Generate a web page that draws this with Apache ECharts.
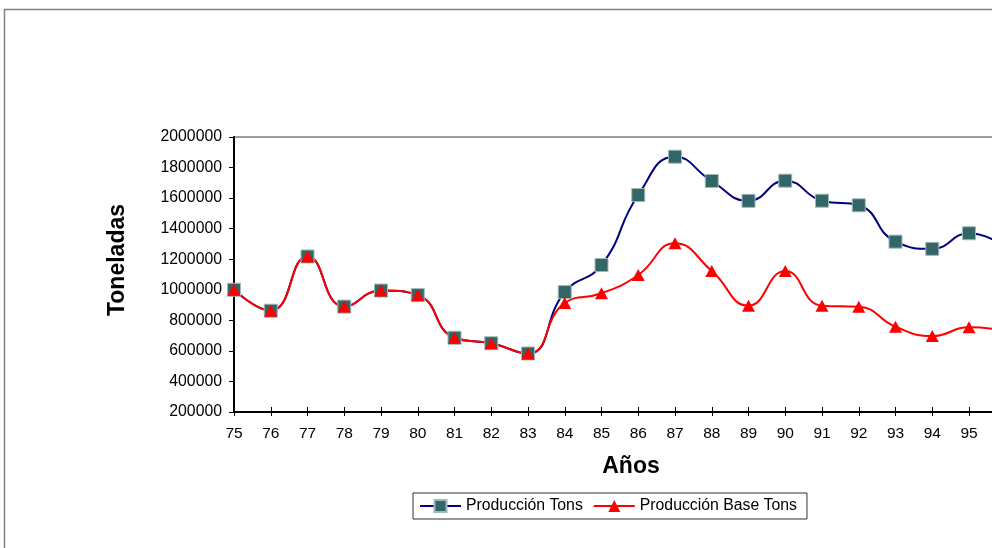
<!DOCTYPE html>
<html>
<head>
<meta charset="utf-8">
<title>Producción</title>
<script src="https://cdn.jsdelivr.net/npm/echarts@6/dist/echarts.min.js"></script>
<style>
  html, body { margin: 0; padding: 0; background: #fff; }
  #chart { width: 992px; height: 548px; }
</style>
</head>
<body>
<div id="chart"></div>
<script>
// Años (últimos dos dígitos)
const years = ['75', '76', '77', '78', '79', '80', '81', '82', '83', '84', '85',
               '86', '87', '88', '89', '90', '91', '92', '93', '94', '95', '96'];

// Producción total, toneladas
const produccionTons = [1000000, 863000, 1218000, 890000, 995000, 965000, 686000, 650000, 583000,
                        985000, 1162000, 1620000, 1871000, 1712000, 1582000, 1714000, 1583000,
                        1553000, 1315000, 1268000, 1370000, 1280000];

// Producción base, toneladas
const produccionBaseTons = [1000000, 863000, 1218000, 890000, 995000, 965000, 686000, 650000, 583000,
                            913000, 977000, 1097000, 1304000, 1123000, 896000, 1123000, 896000,
                            889000, 758000, 697000, 754000, 730000];

// Marcas del eje vertical
const yMin = 200000, yMax = 2000000, yStep = 200000;

const FONT = '"Liberation Sans", Arial, sans-serif';

const chart = echarts.init(document.getElementById('chart'), null, { renderer: 'canvas' });

chart.setOption({
  backgroundColor: '#ffffff',
  animation: false,
  grid: {
    left: 234, top: 137, bottom: 136, right: -13.75,
    outerBoundsMode: 'none', containLabel: false,
    show: true, borderColor: '#808080', borderWidth: 1.5, backgroundColor: 'transparent'
  },
  xAxis: [
    {
      type: 'category', data: years, boundaryGap: false, position: 'bottom',
      axisLine: { lineStyle: { color: '#000', width: 2 } },
      axisTick: { inside: true, length: 5, lineStyle: { color: '#000', width: 1 } },
      axisLabel: { color: '#000', fontFamily: FONT, fontSize: 15.5, margin: 14 },
      splitLine: { show: false }
    },
    {
      type: 'category', data: years, boundaryGap: false, position: 'bottom',
      axisLine: { show: false },
      axisTick: { inside: false, length: 4, lineStyle: { color: '#000', width: 1 } },
      axisLabel: { show: false },
      splitLine: { show: false }
    }
  ],
  yAxis: {
    type: 'value', min: yMin, max: yMax, interval: yStep,
    axisLine: { show: true, lineStyle: { color: '#000', width: 2 } },
    axisTick: { show: true, inside: false, length: 5, lineStyle: { color: '#000', width: 1 } },
    axisLabel: {
      color: '#000', fontFamily: FONT, fontSize: 15.8, margin: 12,
      formatter: (v) => String(v)
    },
    splitLine: { show: false }
  },
  legend: {
    left: 413, top: 493,
    padding: [5, 10, 5, 6],
    itemWidth: 41, itemHeight: 15, itemGap: 10,
    borderColor: '#333', borderWidth: 1,
    textStyle: { color: '#000', fontFamily: FONT, fontSize: 15.8 },
    data: ['Producción Tons', 'Producción Base Tons']
  },
  graphic: [
    {
      type: 'rect', silent: true,
      shape: { x: 4.5, y: 9.5, width: 1100, height: 700 },
      style: { fill: 'none', stroke: '#808080', lineWidth: 1.5 },
      z: -1
    },
    {
      type: 'text', silent: true,
      x: 118, y: 260, rotation: Math.PI / 2,
      style: {
        text: 'Toneladas', fill: '#000', font: 'bold 23px ' + FONT,
        align: 'center', verticalAlign: 'middle'
      }
    },
    {
      type: 'text', silent: true,
      x: 631, y: 467,
      style: {
        text: 'Años', fill: '#000', font: 'bold 23px ' + FONT,
        align: 'center', verticalAlign: 'middle'
      }
    }
  ],
  series: [
    {
      name: 'Producción Tons', type: 'line', data: produccionTons,
      smooth: 0.5, symbol: 'rect', symbolSize: 13, showAllSymbol: true,
      lineStyle: { color: '#000080', width: 2 },
      itemStyle: { color: '#336666', borderColor: '#9fb8b8', borderWidth: 1 },
      emphasis: { disabled: true }
    },
    {
      name: 'Producción Base Tons', type: 'line', data: produccionBaseTons,
      smooth: 0.5, symbol: 'triangle', symbolSize: [13, 12], showAllSymbol: true,
      lineStyle: { color: '#ff0000', width: 2 },
      itemStyle: { color: '#ff0000', borderColor: '#ff0000', borderWidth: 0 },
      emphasis: { disabled: true }
    }
  ]
});
</script>
</body>
</html>
